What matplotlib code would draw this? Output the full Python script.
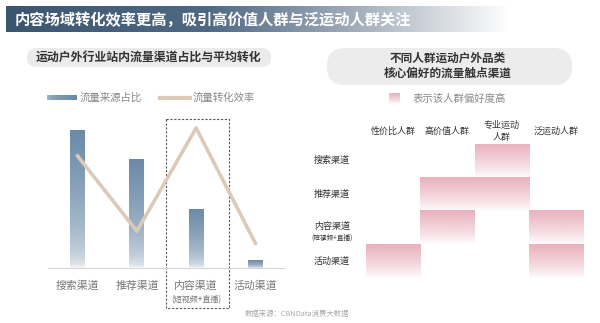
import numpy as np
import matplotlib.pyplot as plt
from matplotlib.colors import to_rgb, LinearSegmentedColormap
from matplotlib.patches import Rectangle, FancyBboxPatch

plt.rcParams['font.family'] = ['Noto Sans CJK SC', 'DejaVu Sans']

# данные
channels = ['搜索渠道', '推荐渠道', '内容渠道', '活动渠道']
traffic_share = [43, 34, 18.4, 2.5]      # доля источника трафика
conversion = [2.8, 0.92, 3.5, 0.62]       # эффективность конверсии
groups = ['性价比人群', '高价值人群', '专业运动\n人群', '泛运动人群']
pref_rows = ['搜索渠道', '推荐渠道', '内容渠道', '活动渠道']
preference = [[0, 0, 1, 0],
              [0, 1, 1, 0],
              [0, 1, 0, 1],
              [1, 0, 0, 1]]

BLUE = '#6b8aa8'
TAN = '#dccab8'
PINK = '#e9b1bd'
W, H = 600, 323


def px_axes(fig, x0, y0, x1, y1):
    """оси в пиксельных координатах (y сверху вниз)"""
    return fig.add_axes([x0 / W, 1 - y1 / H, (x1 - x0) / W, (y1 - y0) / H])


def fade_image(color, n=100, power=1.0, lo=0.0):
    rgb = to_rgb(color)
    img = np.zeros((n, 1, 4))
    img[..., :3] = rgb
    t = np.linspace(1, 0, n)
    img[:, 0, 3] = lo + (1 - lo) * t ** power
    return img


fig = plt.figure(figsize=(6, 3.23), dpi=100)

# подложка с текстами
over = fig.add_axes([0, 0, 1, 1])
over.set_xlim(0, W)
over.set_ylim(H, 0)
over.axis('off')

# заголовок с градиентом
cmap = LinearSegmentedColormap.from_list(
    'ttl', [(0, '#3c556f'), (0.4, '#4f6985'), (0.7, '#a3afbc'), (1, '#ffffff')])
grad = np.linspace(0, 1, 256).reshape(1, -1)
over.imshow(grad, cmap=cmap, extent=(6, 510, 32, 6), aspect='auto', zorder=1)
over.text(15, 19.5, '内容场域转化效率更高，吸引高价值人群与泛运动人群关注',
          color='white', fontsize=11, fontweight='bold', va='center', zorder=2)

# плашки подзаголовков
over.add_patch(FancyBboxPatch((27, 48), 244, 19, boxstyle='round,pad=0,rounding_size=9.5',
                              fc='#ebebeb', ec='none'))
over.text(149, 57.5, '运动户外行业站内流量渠道占比与平均转化', fontsize=8.6,
          fontweight='bold', color='#333333', ha='center', va='center')
over.add_patch(FancyBboxPatch((327, 48), 245, 37, boxstyle='round,pad=0,rounding_size=18',
                              fc='#ececec', ec='none'))
over.text(448, 58, '不同人群运动户外品类', fontsize=8.4, fontweight='bold',
          color='#333333', ha='center', va='center')
over.text(448, 73, '核心偏好的流量触点渠道', fontsize=8.4, fontweight='bold',
          color='#333333', ha='center', va='center')

# легенда слева
over.imshow(fade_image(BLUE, power=0.3, lo=0.5).transpose(1, 0, 2)[:, ::-1],
            extent=(47, 77, 100, 95), aspect='auto')
over.text(80, 98, '流量来源占比', fontsize=7.5, color='#888888', va='center')
over.plot([160, 190], [98, 98], color=TAN, lw=3)
over.text(193, 98, '流量转化效率', fontsize=7.5, color='#888888', va='center')

# рамка вокруг контент-канала
over.add_patch(Rectangle((166, 119), 63, 189, fill=False, ec='#555555',
                         lw=0.8, ls=(0, (2, 1.5)), zorder=5))
over.text(196.5, 299.5, '(短视频+直播)', fontsize=5.8, color='#777777', ha='center', va='center')
over.text(245, 314, '数据来源：CBNData消费大数据', fontsize=5.3, color='#aaaaaa', va='center')

# левый график
ax = px_axes(fig, 48, 108, 285, 268)
ax.set_xlim(-0.5, 3.5)
ax.set_ylim(0, 50)
x = np.arange(len(channels))
bw = 0.25
for xi, val in zip(x, traffic_share):
    ax.imshow(fade_image(BLUE, power=0.45, lo=0.05), extent=(xi - bw / 2, xi + bw / 2, 0, val),
              aspect='auto', zorder=2)
ax.set_xlim(-0.5, 3.5)
ax.set_ylim(0, 50)
ax.set_xticks(x)
ax.set_xticklabels(channels, fontsize=7.8, color='#777777')
ax.tick_params(axis='x', length=0, pad=9)
ax.set_yticks([])
for side in ['top', 'left', 'right']:
    ax.spines[side].set_visible(False)
ax.spines['bottom'].set_color('#d5d5d5')
ax.patch.set_alpha(0)

ax2 = ax.twinx()
ax2.plot(x, conversion, color=TAN, lw=2.6, zorder=3)
ax2.set_ylim(0, 4)
ax2.set_yticks([])
ax2.axis('off')

# правая тепловая карта
hm = px_axes(fig, 366, 144, 583, 278)
hm.set_xlim(0, 4)
hm.set_ylim(4, 0)
for r, row in enumerate(preference):
    for c, v in enumerate(row):
        if v:
            hm.imshow(fade_image(PINK, power=0.8), extent=(c, c + 1, r + 1, r),
                      aspect='auto')
hm.set_xlim(0, 4)
hm.set_ylim(4, 0)
hm.axis('off')
for c, g in enumerate(groups):
    hm.text(c + 0.5, -0.37, g, fontsize=6.5, color='#333333', ha='center', va='center',
            linespacing=1.5)
for r, name in enumerate(pref_rows):
    yoff = -0.05 if name == '内容渠道' else 0
    hm.text(-0.63, r + 0.5 + yoff, name, fontsize=6.5, color='#333333', ha='center', va='center')
hm.text(-0.63, 2.8, '(短视频+直播)', fontsize=4.8, color='#333333', ha='center', va='center')

# легенда справа
over.imshow(fade_image(PINK, power=0.8), extent=(389, 400, 104, 93), aspect='auto')
over.text(413, 99, '表示该人群偏好度高', fontsize=7.5, color='#888888', va='center')
over.set_xlim(0, W)
over.set_ylim(H, 0)

fig.savefig('out.png', dpi=100)
